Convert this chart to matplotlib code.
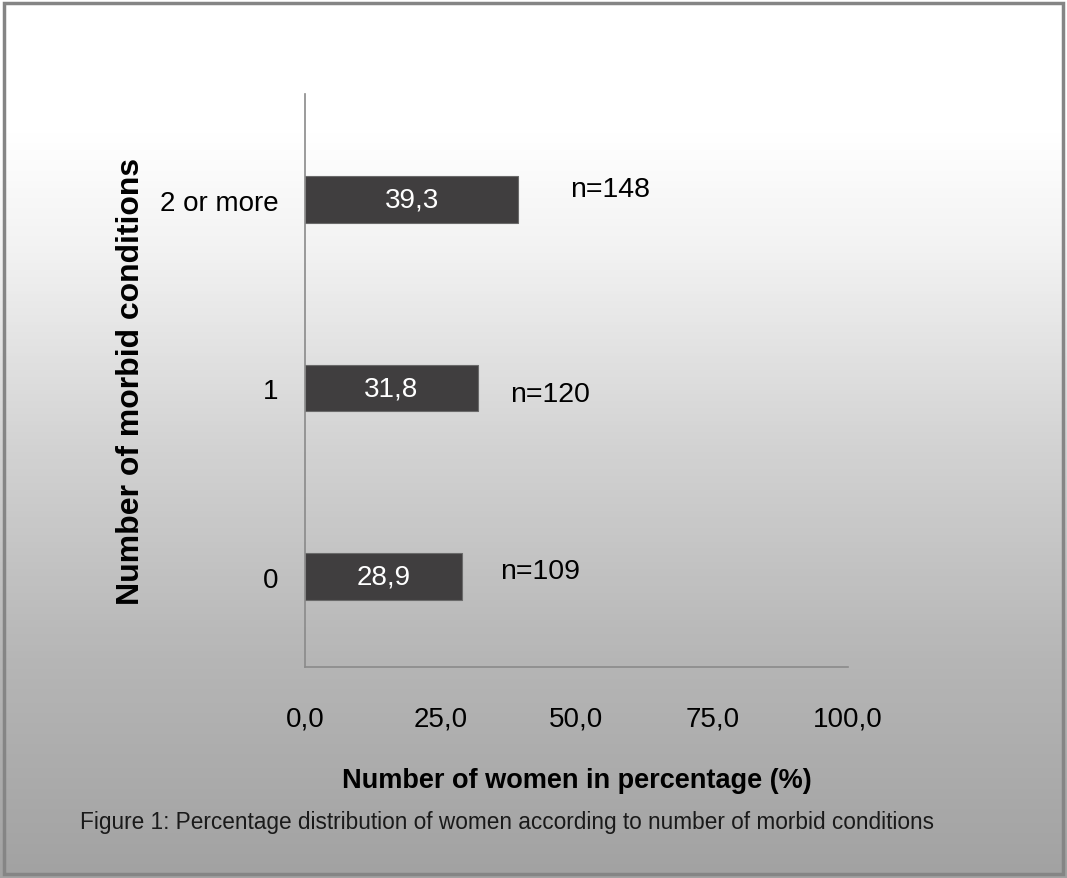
import numpy as np
import matplotlib
matplotlib.use('Agg')
import matplotlib.pyplot as plt
from matplotlib.patches import Rectangle
from matplotlib.colors import LinearSegmentedColormap

plt.rcParams['font.family'] = ['Liberation Sans', 'DejaVu Sans']

# Data
categories = ['0', '1', '2 or more']
percentages = [28.9, 31.8, 39.3]
counts = [109, 120, 148]
x_ticks = [0, 25, 50, 75, 100]

fig = plt.figure(figsize=(10.67, 8.79), dpi=100)

# Background gradient (white at top, grey at bottom)
bg = fig.add_axes([0, 0, 1, 1], zorder=-10)
grad_cmap = LinearSegmentedColormap.from_list(
    'bg', [(0.0, '#a2a2a2'), (0.25, '#b6b6b6'), (0.5, '#d4d4d4'),
           (0.72, '#f3f3f3'), (0.85, '#ffffff'), (1.0, '#ffffff')])
bg.imshow(np.linspace(0, 1, 256).reshape(-1, 1), aspect='auto', cmap=grad_cmap,
          origin='lower', extent=[0, 1, 0, 1])
bg.set_axis_off()

# Frame around the whole picture
fig.patches.append(Rectangle((0.0035, 0.004), 0.9925, 0.991, transform=fig.transFigure,
                             fill=False, edgecolor='#858585', linewidth=2.5))

ax = fig.add_axes([0.2858, 0.240, 0.5089, 0.652])
ax.patch.set_alpha(0)

y_pos = np.arange(len(categories))
ax.barh(y_pos, percentages, height=0.245, color='#403e3f', edgecolor='#6a6a6a', linewidth=0.8)

# Value labels inside bars
for y, v in zip(y_pos, percentages):
    ax.text(v / 2, y, '{:.1f}'.format(v).replace('.', ','), color='white',
            fontsize=20, ha='center', va='center')

# n labels to the right of bars
n_offsets = [7.0, 5.9, 9.6]
n_dy = [0.03, -0.03, 0.055]
for y, v, n, dx, dy in zip(y_pos, percentages, counts, n_offsets, n_dy):
    ax.text(v + dx, y + dy, 'n={}'.format(n), color='black', fontsize=20.5,
            ha='left', va='center')

ax.set_xlim(0, 100)
ax.set_ylim(-0.48, 2.56)
ax.set_xticks(x_ticks)
ax.set_xticklabels(['{:.1f}'.format(t).replace('.', ',') for t in x_ticks], fontsize=20)
ax.set_yticks(y_pos)
ax.set_yticklabels(categories, fontsize=20)
ax.tick_params(axis='x', length=0, pad=28)
ax.tick_params(axis='y', length=0, pad=19)

for side in ['top', 'right']:
    ax.spines[side].set_visible(False)
for side in ['left', 'bottom']:
    ax.spines[side].set_color('#8a8a8a')
    ax.spines[side].set_linewidth(1.2)

ax.set_xlabel('Number of women in percentage (%)', fontsize=19.5, fontweight='bold', labelpad=25)
ax.set_ylabel('Number of morbid conditions', fontsize=23, fontweight='bold', labelpad=10)

fig.text(0.075, 0.064, 'Figure 1: Percentage distribution of women according to number of morbid conditions',
         fontsize=16.3, ha='left', va='center', color='#1a1a1a')

fig.savefig('out.png', dpi=100)
